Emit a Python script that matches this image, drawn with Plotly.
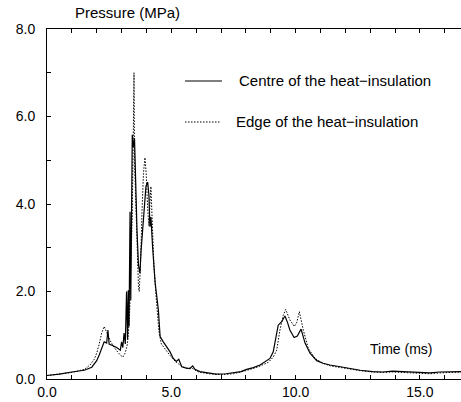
import plotly.graph_objects as go

# Centre of the heat-insulation
t_centre = [0.0, 0.5, 1.0, 1.5, 1.8, 2.0, 2.1, 2.2, 2.3, 2.4, 2.45, 2.5, 2.6, 2.7, 2.8, 2.9, 2.95,
            3.0, 3.05, 3.1, 3.15, 3.2, 3.24, 3.27, 3.3, 3.34, 3.37, 3.43, 3.47, 3.52, 3.56, 3.62,
            3.68, 3.74, 3.78, 3.85, 3.92, 3.98, 4.05, 4.1, 4.14, 4.18, 4.25, 4.35, 4.48, 4.55,
            4.68, 4.8, 4.95, 5.08, 5.2, 5.3, 5.42, 5.6, 5.75, 5.86, 5.95, 6.15, 6.5, 6.8, 7.2,
            7.5, 7.8, 8.03, 8.3, 8.57, 8.8, 8.97, 9.1, 9.17, 9.3, 9.44, 9.57, 9.67, 9.77, 9.94,
            10.07, 10.22, 10.38, 10.58, 10.85, 11.1, 11.38, 11.8, 12.19, 12.6, 13.1, 13.5, 13.9,
            14.3, 14.7, 15.0, 15.4, 15.8, 16.1, 16.7]
p_centre = [0.08, 0.11, 0.16, 0.2, 0.27, 0.42, 0.55, 0.72, 0.85, 0.82, 1.12, 0.8, 0.78, 0.75, 0.72,
            0.68, 0.66, 0.85, 0.72, 1.05, 0.8, 2.0, 0.9, 2.03, 1.2, 3.82, 1.8, 5.58, 5.3, 5.5, 4.6,
            3.4, 2.6, 2.42, 2.9, 3.5, 4.1, 4.4, 4.5, 4.2, 3.48, 3.7, 3.0, 2.2, 1.58, 0.97, 0.85,
            0.75, 0.62, 0.47, 0.4, 0.45, 0.28, 0.25, 0.24, 0.3, 0.22, 0.17, 0.13, 0.11, 0.12, 0.14,
            0.17, 0.22, 0.26, 0.32, 0.4, 0.47, 0.62, 0.81, 1.23, 1.31, 1.44, 1.3, 1.12, 0.95, 0.98,
            1.14, 0.82, 0.59, 0.42, 0.36, 0.32, 0.28, 0.24, 0.2, 0.17, 0.16, 0.18, 0.17, 0.17,
            0.15, 0.14, 0.16, 0.16, 0.17]

# Edge of the heat-insulation
t_edge = [0.0, 0.5, 1.0, 1.5, 1.73, 1.9, 2.0, 2.1, 2.2, 2.3, 2.4, 2.53, 2.7, 2.85, 2.94, 3.05,
          3.14, 3.22, 3.27, 3.33, 3.38, 3.43, 3.47, 3.5, 3.52, 3.57, 3.62, 3.68, 3.71, 3.76, 3.82,
          3.88, 3.94, 3.99, 4.05, 4.1, 4.14, 4.18, 4.24, 4.3, 4.4, 4.5, 4.6, 4.8, 5.0, 5.2, 5.4,
          5.6, 5.85, 6.1, 6.5, 7.0, 7.5, 8.0, 8.5, 8.9, 9.1, 9.24, 9.37, 9.5, 9.6, 9.77, 9.95,
          10.05, 10.15, 10.31, 10.51, 10.78, 11.1, 11.4, 11.8, 12.2, 12.6, 13.1, 13.5, 13.9, 14.3,
          14.7, 15.0, 15.4, 15.8, 16.1, 16.7]
p_edge = [0.08, 0.11, 0.15, 0.22, 0.32, 0.45, 0.59, 0.8, 1.05, 1.2, 1.05, 0.89, 0.72, 0.6, 0.55,
          0.5, 0.59, 0.75, 1.0, 1.6, 2.5, 3.8, 5.5, 7.0, 5.0, 4.0, 3.0, 2.1, 2.0, 2.6, 3.8, 4.7,
          5.06, 4.7, 3.9, 3.5, 4.0, 4.4, 3.5, 2.6, 1.8, 1.1, 0.8, 0.65, 0.5, 0.38, 0.3, 0.25, 0.24,
          0.16, 0.12, 0.1, 0.12, 0.19, 0.28, 0.38, 0.5, 0.66, 1.12, 1.45, 1.59, 1.35, 1.2, 1.3,
          1.54, 1.12, 0.7, 0.47, 0.36, 0.3, 0.26, 0.22, 0.19, 0.16, 0.15, 0.16, 0.15, 0.15, 0.13,
          0.12, 0.14, 0.15, 0.16]

x_tickvals = list(range(0, 17))
x_ticktext = ["%.1f" % v if v % 5 == 0 else "" for v in x_tickvals]
y_tickvals = list(range(0, 9))
y_ticktext = ["%.1f" % v if v % 2 == 0 else "" for v in y_tickvals]

series_names = ["Centre of the heat\u2212insulation", "Edge of the heat\u2212insulation"]

FONT = "Liberation Sans, Arial, sans-serif"

fig = go.Figure()
fig.add_trace(go.Scatter(x=t_centre, y=p_centre, mode="lines", name=series_names[0],
                         line=dict(color="black", width=1.2), showlegend=False))
fig.add_trace(go.Scatter(x=t_edge, y=p_edge, mode="lines", name=series_names[1],
                         line=dict(color="black", width=1, dash="1.5px,1.5px"), showlegend=False))

# legend drawn as shapes + text
fig.add_shape(type="line", xref="paper", yref="paper", x0=(185 - 47) / 414, x1=(222 - 47) / 414,
              y0=(379 - 81) / 350, y1=(379 - 81) / 350, line=dict(color="black", width=1.2))
fig.add_shape(type="line", xref="paper", yref="paper", x0=(185 - 47) / 414, x1=(220 - 47) / 414,
              y0=(379 - 122) / 350, y1=(379 - 122) / 350,
              line=dict(color="black", width=1, dash="1.5px,1.5px"))
fig.add_annotation(xref="paper", yref="paper", x=(237 - 47) / 414, y=(379 - 80) / 350,
                   text=series_names[0], showarrow=False, xanchor="left", yanchor="middle",
                   font=dict(family=FONT, size=15, color="black"))
fig.add_annotation(xref="paper", yref="paper", x=(234 - 47) / 414, y=(379 - 121) / 350,
                   text=series_names[1], showarrow=False, xanchor="left", yanchor="middle",
                   font=dict(family=FONT, size=15, color="black"))

fig.add_annotation(xref="paper", yref="paper", x=(73 - 47) / 414, y=(379 - 12) / 350,
                   text="Pressure (MPa)", showarrow=False, xanchor="left", yanchor="middle",
                   font=dict(family=FONT, size=15, color="black"))
fig.add_annotation(xref="paper", yref="paper", x=(401 - 47) / 414, y=(379 - 349) / 350,
                   text="Time (ms)", showarrow=False, xanchor="center", yanchor="middle",
                   font=dict(family=FONT, size=14, color="black"))

fig.update_layout(
    width=461, height=402,
    margin=dict(l=47, r=0, t=29, b=23),
    paper_bgcolor="white", plot_bgcolor="white",
    font=dict(family=FONT, size=14, color="black"),
    xaxis=dict(range=[0, 414 / 24.86], tickmode="array", tickvals=x_tickvals, ticktext=x_ticktext,
               ticks="inside", ticklen=4, tickcolor="black", showline=True, linecolor="black",
               linewidth=1, mirror="ticks", showgrid=False, zeroline=False,
               tickfont=dict(family=FONT, size=14, color="black")),
    yaxis=dict(range=[0, 8], tickmode="array", tickvals=y_tickvals, ticktext=y_ticktext,
               ticks="inside", ticklen=4, tickcolor="black", showline=True, linecolor="black",
               linewidth=1, showgrid=False, zeroline=False, ticklabelstandoff=8,
               tickfont=dict(family=FONT, size=14, color="black")),
)

fig.write_html("out.html", config={"displayModeBar": False},
               post_script="document.body.style.margin='0';document.body.style.overflow='hidden';")
